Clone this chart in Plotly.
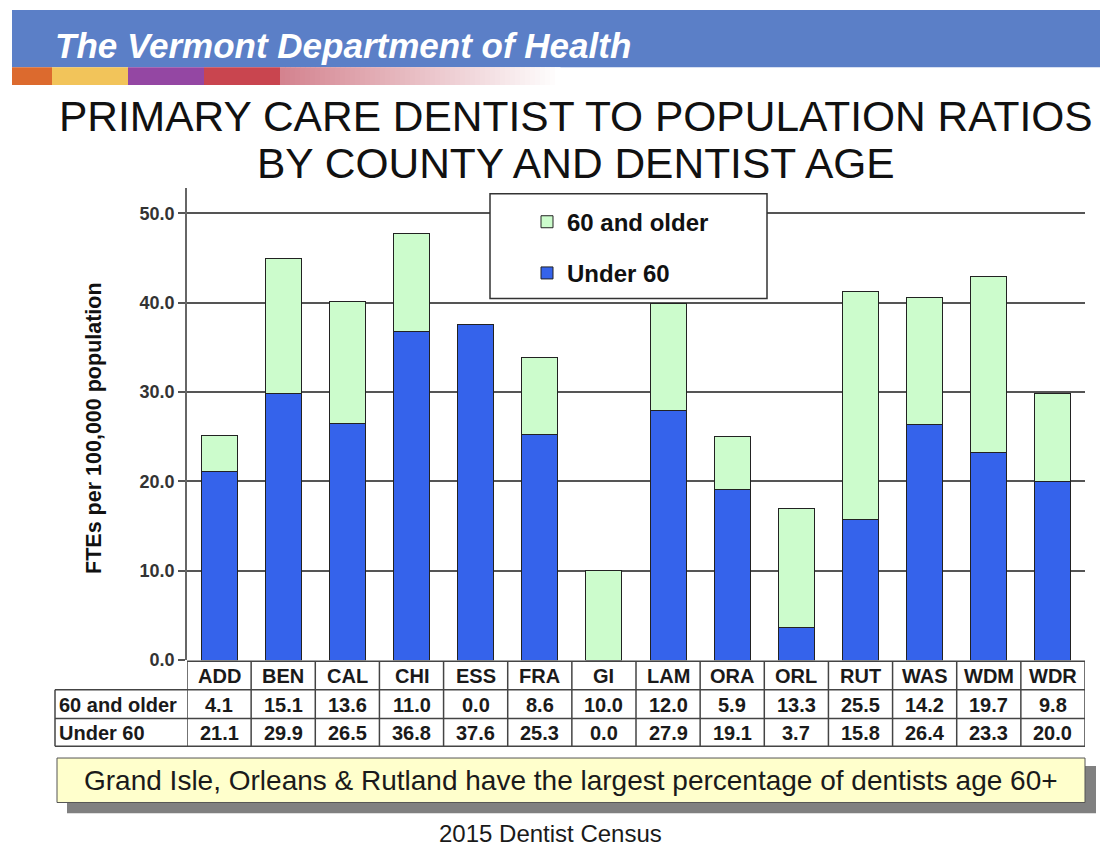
import plotly.graph_objects as go

W, H = 1112, 854

counties = ["ADD", "BEN", "CAL", "CHI", "ESS", "FRA", "GI", "LAM", "ORA", "ORL", "RUT", "WAS", "WDM", "WDR"]
older_60 = [4.1, 15.1, 13.6, 11.0, 0.0, 8.6, 10.0, 12.0, 5.9, 13.3, 25.5, 14.2, 19.7, 9.8]
under_60 = [21.1, 29.9, 26.5, 36.8, 37.6, 25.3, 0.0, 27.9, 19.1, 3.7, 15.8, 26.4, 23.3, 20.0]
series_names = ["60 and older", "Under 60"]
y_ticks = [0, 10, 20, 30, 40, 50]

FONT = "Arial, Liberation Sans, sans-serif"
BLUE = "#3563eb"
GREEN = "#ccfccc"


def px(x):
    return x / W


def py(y):
    return 1 - y / H


fig = go.Figure()
fig.add_trace(go.Bar(x=counties, y=under_60, name=series_names[1], legendgroup="u", legendrank=2,
                     marker=dict(color=BLUE, line=dict(color="#222", width=1))))
fig.add_trace(go.Bar(x=counties, y=older_60, name=series_names[0], legendgroup="o", legendrank=1,
                     marker=dict(color=GREEN, line=dict(color="#222", width=1))))

shapes = []
annotations = []

# Header banner
shapes.append(dict(type="rect", xref="paper", yref="paper", x0=px(12), x1=px(1100), y0=py(68), y1=py(10),
                   fillcolor="#5b7fc7", line=dict(width=0), layer="below"))
strip = [(12, 52, "#dc6a2e"), (52, 128, "#f2c45a"), (128, 204, "#9447a3"), (204, 280, "#c9454f")]
for x0, x1, c in strip:
    shapes.append(dict(type="rect", xref="paper", yref="paper", x0=px(x0), x1=px(x1), y0=py(86), y1=py(68),
                       fillcolor=c, line=dict(width=0), layer="below"))
# gradient tail of strip
g0, g1 = 280, 560
n = 56
c0 = (212, 131, 143)
for k in range(n):
    t = k / (n - 1)
    r = int(c0[0] + (255 - c0[0]) * t)
    g = int(c0[1] + (255 - c0[1]) * t)
    b = int(c0[2] + (255 - c0[2]) * t)
    xa = g0 + (g1 - g0) * k / n
    xb = g0 + (g1 - g0) * (k + 1) / n + 0.5
    shapes.append(dict(type="rect", xref="paper", yref="paper", x0=px(xa), x1=px(xb), y0=py(86), y1=py(68),
                       fillcolor=f"rgb({r},{g},{b})", line=dict(width=0), layer="below"))

annotations.append(dict(text="<b><i>The Vermont Department of Health</i></b>", xref="paper", yref="paper",
                        x=px(53), y=py(46), xanchor="left", yanchor="middle", showarrow=False,
                        font=dict(family=FONT, size=35, color="white")))

# Title
annotations.append(dict(text="PRIMARY CARE DENTIST TO POPULATION RATIOS", xref="paper", yref="paper",
                        x=px(576), y=py(118), xanchor="center", yanchor="middle", showarrow=False,
                        font=dict(family=FONT, size=42.5, color="#111")))
annotations.append(dict(text="BY COUNTY AND DENTIST AGE", xref="paper", yref="paper",
                        x=px(576), y=py(165), xanchor="center", yanchor="middle", showarrow=False,
                        font=dict(family=FONT, size=42.5, color="#111")))

# Y axis title
annotations.append(dict(text="<b>FTEs per 100,000 population</b>", xref="paper", yref="paper",
                        x=px(94), y=py(433), textangle=-90, xanchor="center", yanchor="middle", showarrow=False,
                        font=dict(family=FONT, size=21.5, color="#111")))

# Legend box
shapes.append(dict(type="rect", xref="paper", yref="paper", x0=px(490), x1=px(767), y0=py(302), y1=py(196),
                   fillcolor="white", line=dict(color="#333", width=1.5), layer="above"))

# Data table
LINE = dict(color="#444", width=1.5)
rows_y = [669, 698, 727, 755]
for i in range(len(counties) + 1):
    shapes.append(dict(type="line", xref="x", yref="paper", x0=i - 0.5, x1=i - 0.5,
                       y0=py(rows_y[0]), y1=py(rows_y[-1]), line=LINE))
shapes.append(dict(type="line", xref="paper", yref="paper", x0=px(55), x1=px(55),
                   y0=py(rows_y[1]), y1=py(rows_y[-1]), line=LINE))
for yy in rows_y[1:]:
    shapes.append(dict(type="line", xref="paper", yref="paper", x0=px(55), x1=px(1085),
                       y0=py(yy), y1=py(yy), line=LINE))
shapes.append(dict(type="line", xref="x", yref="paper", x0=-0.5, x1=len(counties) - 0.5,
                   y0=py(rows_y[0]), y1=py(rows_y[0]), line=LINE))

TF = dict(family=FONT, size=20, color="#1a1a1a")
for i, c in enumerate(counties):
    annotations.append(dict(text=f"<b>{c}</b>", xref="x", yref="paper", x=c, y=py(684),
                            xanchor="center", yanchor="middle", showarrow=False, font=TF))
    annotations.append(dict(text=f"<b>{older_60[i]:.1f}</b>", xref="x", yref="paper", x=c, y=py(713),
                            xanchor="center", yanchor="middle", showarrow=False, font=TF))
    annotations.append(dict(text=f"<b>{under_60[i]:.1f}</b>", xref="x", yref="paper", x=c, y=py(741.5),
                            xanchor="center", yanchor="middle", showarrow=False, font=TF))
for name, yy in zip(series_names, [713, 741.5]):
    annotations.append(dict(text=f"<b>{name}</b>", xref="paper", yref="paper", x=px(57), y=py(yy),
                            xanchor="left", yanchor="middle", showarrow=False, font=TF))

# Callout with shadow
shapes.append(dict(type="rect", xref="paper", yref="paper", x0=px(67), x1=px(1096), y0=py(823), y1=py(775),
                   fillcolor="#808080", line=dict(width=0)))
shapes.append(dict(type="rect", xref="paper", yref="paper", x0=px(57), x1=px(1085), y0=py(812), y1=py(767),
                   fillcolor="#ffffcc", line=dict(color="#555", width=1)))
annotations.append(dict(text="Grand Isle, Orleans & Rutland have the largest percentage of dentists age 60+",
                        xref="paper", yref="paper", x=px(571), y=py(790), xanchor="center", yanchor="middle",
                        showarrow=False, font=dict(family=FONT, size=28, color="#1a1a1a")))

# Footnote
annotations.append(dict(text="2015 Dentist Census", xref="paper", yref="paper", x=px(550), y=py(843),
                        xanchor="center", yanchor="middle", showarrow=False,
                        font=dict(family=FONT, size=24, color="#1a1a1a")))

ytop = 50 * (668 - 190) / (668 - 216)

fig.update_layout(
    width=W, height=H,
    margin=dict(l=0, r=0, t=0, b=0),
    paper_bgcolor="white", plot_bgcolor="white",
    barmode="stack", bargap=0.44,
    showlegend=True,
    legend=dict(x=px(527), y=py(202), xanchor="left", yanchor="top",
                bgcolor="rgba(0,0,0,0)", borderwidth=0,
                traceorder="grouped", tracegroupgap=17,
                font=dict(family=FONT, size=24, color="#111", weight="bold")),
    xaxis=dict(domain=[px(187), px(1085)], range=[-0.5, len(counties) - 0.5], type="category",
               showticklabels=False, ticks="", showline=False, showgrid=False, zeroline=False),
    yaxis=dict(domain=[py(668), py(190)], range=[0, ytop], tickvals=y_ticks, tickformat=".1f",
               showgrid=True, gridcolor="#555", gridwidth=1.5, zeroline=False,
               showline=True, linecolor="#666", linewidth=1.5,
               ticks="outside", ticklen=7, tickcolor="#555", tickwidth=1.5,
               tickfont=dict(family=FONT, size=18, color="#333", weight="bold")),
    shapes=shapes,
    annotations=annotations,
    font=dict(family=FONT),
)

fig.write_html("out.html")
